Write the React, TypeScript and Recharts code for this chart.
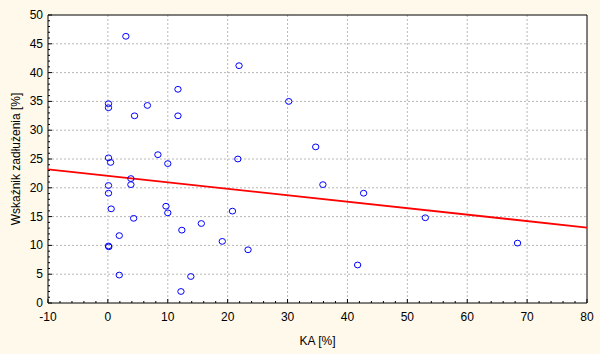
import React from "react";
import { ScatterChart, Scatter, XAxis, YAxis, CartesianGrid } from "recharts";

// KA [%] vs Wskaźnik zadłużenia [%]
const kaValues = [
  3.0, 0.1, 0.1, 6.6, 4.45, 11.7, 11.7, 0.1, 0.45, 8.35, 10.0, 21.9, 30.2, 34.7, 21.7,
  3.84, 3.84, 0.1, 0.1, 0.55, 9.7, 10.0, 4.3, 1.9, 12.35, 0.1, 0.15, 1.9, 13.85, 12.2,
  15.6, 35.9, 42.7, 20.8, 19.1, 23.4, 41.7, 53.0, 68.4,
];
const debtValues = [
  46.3, 34.6, 33.9, 34.3, 32.5, 37.1, 32.5, 25.2, 24.4, 25.75, 24.2, 41.2, 35.0, 27.1, 25.0,
  21.6, 20.55, 20.4, 19.06, 16.35, 16.8, 15.65, 14.7, 11.7, 12.65, 9.9, 9.75, 4.85, 4.6, 2.0,
  13.8, 20.55, 19.06, 15.95, 10.7, 9.24, 6.6, 14.8, 10.4,
];

// fitted line end points
const fitX = [-10, 80];
const fitY = [23.2, 13.1];

const xMajor = [-10, 0, 10, 20, 30, 40, 50, 60, 70, 80];
const xMinor = [-10, -8, -6, -4, -2, 0, 2, 4, 6, 8, 10, 12, 14, 16, 18, 20, 22, 24, 26, 28, 30, 32, 34, 36, 38, 40, 42, 44, 46, 48, 50, 52, 54, 56, 58, 60, 62, 64, 66, 68, 70, 72, 74, 76, 78, 80];
const yMajor = [0, 5, 10, 15, 20, 25, 30, 35, 40, 45, 50];
const yMinor = [0, 1, 2, 3, 4, 5, 6, 7, 8, 9, 10, 11, 12, 13, 14, 15, 16, 17, 18, 19, 20, 21, 22, 23, 24, 25, 26, 27, 28, 29, 30, 31, 32, 33, 34, 35, 36, 37, 38, 39, 40, 41, 42, 43, 44, 45, 46, 47, 48, 49, 50];

const points = kaValues.map((x, i) => ({ x, y: debtValues[i] }));
const fitLine = fitX.map((x, i) => ({ x, y: fitY[i] }));

const FONT = "'Liberation Sans', Arial, sans-serif";
const BG = "#fff9eb";

const isMajorX = (v: number) => xMajor.includes(v);
const isMajorY = (v: number) => yMajor.includes(v);

const BottomTick = (props: any) => {
  const { x, y, payload } = props;
  const major = isMajorX(payload.value);
  return (
    <g>
      <line x1={x} x2={x} y1={y} y2={y - (major ? 4 : 2)} stroke="#000" />
      {major && (
        <text x={x} y={y + 18} textAnchor="middle" fontSize={12} fontFamily={FONT} fill="#000">
          {payload.value}
        </text>
      )}
    </g>
  );
};

const TopTick = (props: any) => {
  const { x, y, payload } = props;
  const major = isMajorX(payload.value);
  return <line x1={x} x2={x} y1={y} y2={y + (major ? 4 : 2)} stroke="#000" />;
};

const LeftTick = (props: any) => {
  const { x, y, payload } = props;
  const major = isMajorY(payload.value);
  return (
    <g>
      <line x1={x} x2={x + (major ? 4 : 2)} y1={y} y2={y} stroke="#000" />
      {major && (
        <text x={x - 5} y={y + 4} textAnchor="end" fontSize={12} fontFamily={FONT} fill="#000">
          {payload.value}
        </text>
      )}
    </g>
  );
};

const RightTick = (props: any) => {
  const { x, y, payload } = props;
  const major = isMajorY(payload.value);
  return <line x1={x} x2={x - (major ? 4 : 2)} y1={y} y2={y} stroke="#000" />;
};

const Ring = (props: any) => (
  <ellipse cx={props.cx} cy={props.cy} rx={3.2} ry={2.9} fill="none" stroke="#0000ff" strokeWidth={1} />
);

export default function App() {
  return (
    <div style={{ position: "absolute", left: 0, top: 0, width: 600, height: 354, background: BG }}>
      <ScatterChart width={600} height={354} margin={{ top: 0, right: 0, bottom: 0, left: 0 }}>
        <CartesianGrid
          fill="#ffffff"
          stroke="#b8b8b8"
          strokeDasharray="2 2"
          verticalValues={xMajor.slice(1, -1)}
          horizontalValues={yMajor.slice(1, -1)}
        />
        <XAxis
          type="number"
          dataKey="x"
          domain={[-10, 80]}
          ticks={xMinor}
          interval={0}
          height={51}
          tickSize={0}
          tickMargin={0}
          tickLine={false}
          axisLine={{ stroke: "#000" }}
          tick={<BottomTick />}
          label={{ value: "KA [%]", position: "insideBottom", offset: 9, fontSize: 12, fontFamily: FONT, fill: "#000" }}
        />
        <XAxis
          xAxisId="top"
          orientation="top"
          type="number"
          dataKey="x"
          domain={[-10, 80]}
          ticks={xMinor}
          interval={0}
          height={15}
          tickSize={0}
          tickMargin={0}
          tickLine={false}
          axisLine={{ stroke: "#000" }}
          tick={<TopTick />}
        />
        <YAxis
          type="number"
          dataKey="y"
          domain={[0, 50]}
          ticks={yMinor}
          interval={0}
          width={48}
          tickSize={0}
          tickMargin={0}
          tickLine={false}
          axisLine={{ stroke: "#000" }}
          tick={<LeftTick />}
          label={{
            content: (p: any) => {
              const vb = p.viewBox;
              const cx = vb.x + 16;
              const cy = vb.y + vb.height / 2;
              return (
                <text x={cx} y={cy} transform={`rotate(-90 ${cx} ${cy})`} textAnchor="middle" dominantBaseline="central" fontSize={12} fontFamily={FONT} fill="#000">
                  Wskaźnik zadłużenia [%]
                </text>
              );
            },
          }}
        />
        <YAxis
          yAxisId="r"
          orientation="right"
          type="number"
          dataKey="y"
          domain={[0, 50]}
          ticks={yMinor}
          interval={0}
          width={13}
          tickSize={0}
          tickMargin={0}
          tickLine={false}
          axisLine={{ stroke: "#000" }}
          tick={<RightTick />}
        />
        <Scatter data={fitLine} line={{ stroke: "#ff0000", strokeWidth: 1.8 }} shape={() => null} isAnimationActive={false} />
        <Scatter data={points} shape={<Ring />} isAnimationActive={false} />
      </ScatterChart>
    </div>
  );
}
